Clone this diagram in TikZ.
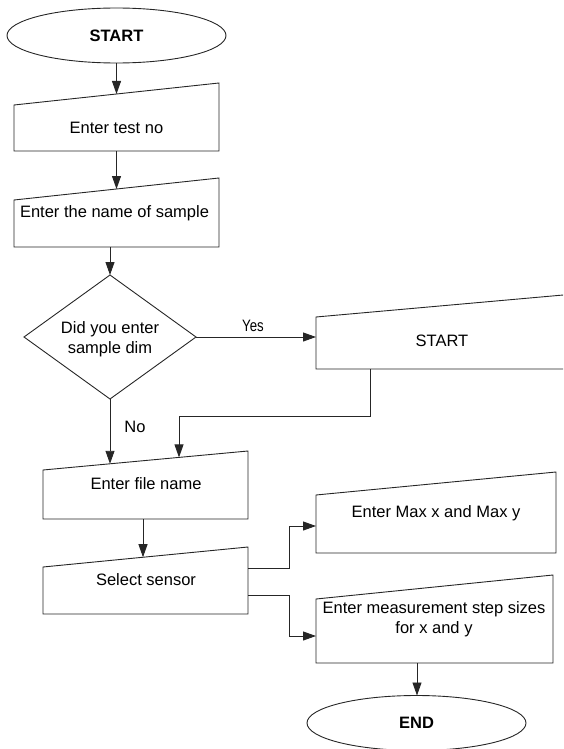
\documentclass[tikz,border=0pt]{standalone}
\usepackage{fontspec}
\setmainfont{Liberation Sans}
\usetikzlibrary{arrows.meta,shapes.geometric}
\tikzset{
  lin/.style={line width=0.9pt, draw=black!85},
  arr/.style={lin, -{Triangle[length=13pt,width=9pt]}},
  txt/.style={font=\fontsize{16.5}{20}\selectfont, inner sep=0pt, text height=11.8pt, text depth=0pt},
  term/.style={lin, ellipse, minimum width=219pt, minimum height=55pt, inner sep=0pt, font=\fontsize{16.5}{20}\selectfont\bfseries}
}
\begin{document}
\begin{tikzpicture}[x=1pt,y=-1pt]
\useasboundingbox (0,0) rectangle (563,749);
\clip (0,0) rectangle (563,749);
% terminals
\node[term] (start) at (116.5,35.5) {START};
\node[term] (end) at (416.5,723) {END};
% manual input boxes
\draw[lin] (14,105) -- (219,83) -- (219,151) -- (14,151) -- cycle;
\draw[lin] (14,200) -- (219,178) -- (219,247) -- (14,247) -- cycle;
\draw[lin] (316,317) -- (570,294.4) -- (570,369) -- (316,369) -- cycle;
\draw[lin] (43,470) -- (248,451) -- (248,519) -- (43,519) -- cycle;
\draw[lin] (43,567) -- (248,547) -- (248,614) -- (43,614) -- cycle;
\draw[lin] (316,495) -- (556,472) -- (556,553) -- (316,553) -- cycle;
\draw[lin] (316,599) -- (553,575) -- (553,663) -- (316,663) -- cycle;
% decision
\draw[lin] (110,275) -- (196,337) -- (110,399) -- (24,337) -- cycle;
% texts
\node[txt] (t1) at (116.5,128) {Enter test no};
\node[txt] (t2) at (114.5,212) {Enter the name of sample};
\node[txt] (d1) at (110,328) {Did you enter};
\node[txt] (d2) at (110,348) {sample dim};
\node[txt] (s2) at (442,341) {START};
\node[txt] (t3) at (146,484) {Enter file name};
\node[txt] (t4) at (146,580) {Select sensor};
\node[txt] (t5) at (436,512) {Enter Max x and Max y};
\node[txt] (t6a) at (434,608) {Enter measurement step sizes};
\node[txt] (t6b) at (434,628) {for x and y};
\node[txt] (yes) at (253,326) {\scalebox{0.8}[1]{Yes}};
\node[txt] (no) at (135,427) {No};
% connector coordinates
\coordinate (b1top) at (116.5,94);
\coordinate (b1bot) at (116.5,151);
\coordinate (b2top) at (116.5,189);
\coordinate (b2bot) at (110,247);
\coordinate (dtop) at (110,275);
\coordinate (dright) at (196,337);
\coordinate (dbot) at (110,399);
\coordinate (sleft) at (316,337);
\coordinate (sbot) at (370,369);
\coordinate (ftopA) at (110,463.8);
\coordinate (ftopB) at (179,457.4);
\coordinate (fbot) at (143,519);
\coordinate (sentop) at (143,557.2);
\coordinate (senr1) at (248,568);
\coordinate (senr2) at (248,595);
\coordinate (maxl) at (316,526);
\coordinate (stepl) at (316,636);
\coordinate (stepbot) at (417,663);
\coordinate (endtop) at (417,695.5);
% connectors
\draw[arr] (start.south) -- (b1top);
\draw[arr] (b1bot) -- (b2top);
\draw[arr] (b2bot) -- (dtop);
\draw[arr] (dright) -- (sleft);
\draw[arr] (dbot) -- (ftopA);
\draw[arr] (sbot) -- (370,416) -- (179,416) -- (ftopB);
\draw[arr] (fbot) -- (sentop);
\draw[arr] (senr1) -- (289,568) -- (289,526) -- (maxl);
\draw[arr] (senr2) -- (289,595) -- (289,636) -- (stepl);
\draw[arr] (stepbot) -- (endtop);
\end{tikzpicture}
\end{document}
